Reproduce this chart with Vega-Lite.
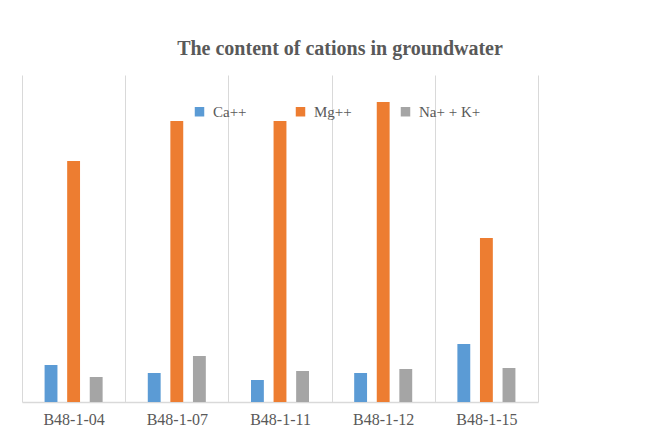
{
  "$schema": "https://vega.github.io/schema/vega-lite/v6.json",
  "autosize": {"type": "none"},
  "padding": {"left": 22, "top": 75, "right": 122, "bottom": 30},
  "width": 516,
  "height": 327,
  "background": "white",
  "title": {
    "text": "The content of cations in groundwater",
    "font": "Liberation Serif",
    "fontSize": 20,
    "fontWeight": "bold",
    "color": "#595959",
    "dx": 60,
    "offset": 16
  },
  "data": {
    "values": [
      {"sample": "B48-1-04", "ion": "Ca++", "value": 37},
      {"sample": "B48-1-04", "ion": "Mg++", "value": 241},
      {"sample": "B48-1-04", "ion": "Na+ + K+", "value": 25},
      {"sample": "B48-1-07", "ion": "Ca++", "value": 29},
      {"sample": "B48-1-07", "ion": "Mg++", "value": 281},
      {"sample": "B48-1-07", "ion": "Na+ + K+", "value": 46},
      {"sample": "B48-1-11", "ion": "Ca++", "value": 22},
      {"sample": "B48-1-11", "ion": "Mg++", "value": 281},
      {"sample": "B48-1-11", "ion": "Na+ + K+", "value": 31},
      {"sample": "B48-1-12", "ion": "Ca++", "value": 29},
      {"sample": "B48-1-12", "ion": "Mg++", "value": 300},
      {"sample": "B48-1-12", "ion": "Na+ + K+", "value": 33},
      {"sample": "B48-1-15", "ion": "Ca++", "value": 58},
      {"sample": "B48-1-15", "ion": "Mg++", "value": 164},
      {"sample": "B48-1-15", "ion": "Na+ + K+", "value": 34}
    ]
  },
  "mark": {"type": "bar"},
  "encoding": {
    "x": {
      "field": "sample",
      "type": "nominal",
      "sort": null,
      "scale": {"paddingInner": 0, "paddingOuter": 0},
      "axis": {
        "title": null,
        "labelAngle": 0,
        "labelFont": "Liberation Serif",
        "labelFontSize": 16,
        "labelColor": "#595959",
        "labelPadding": 9,
        "ticks": false,
        "tickBand": "extent",
        "grid": true,
        "gridColor": "#d9d9d9",
        "domainColor": "#d9d9d9",
        "domainWidth": 1.5
      }
    },
    "xOffset": {
      "field": "ion",
      "type": "nominal",
      "scale": {"domain": ["Ca++", "Mg++", "Na+ + K+"], "paddingInner": 0.43, "paddingOuter": 1.17}
    },
    "y": {
      "field": "value",
      "type": "quantitative",
      "scale": {"domain": [0, 327], "nice": false},
      "axis": null
    },
    "color": {
      "field": "ion",
      "type": "nominal",
      "scale": {"domain": ["Ca++", "Mg++", "Na+ + K+"], "range": ["#5B9BD5", "#ED7D31", "#A5A5A5"]},
      "legend": {
        "title": null,
        "orient": "none",
        "direction": "horizontal",
        "legendX": 170,
        "legendY": 29,
        "symbolType": "square",
        "symbolSize": 90,
        "symbolStrokeWidth": 0,
        "labelFont": "Liberation Serif",
        "labelFontSize": 15,
        "labelColor": "#595959",
        "labelOffset": 6,
        "columnPadding": 46
      }
    }
  },
  "config": {"view": {"stroke": null}}
}
